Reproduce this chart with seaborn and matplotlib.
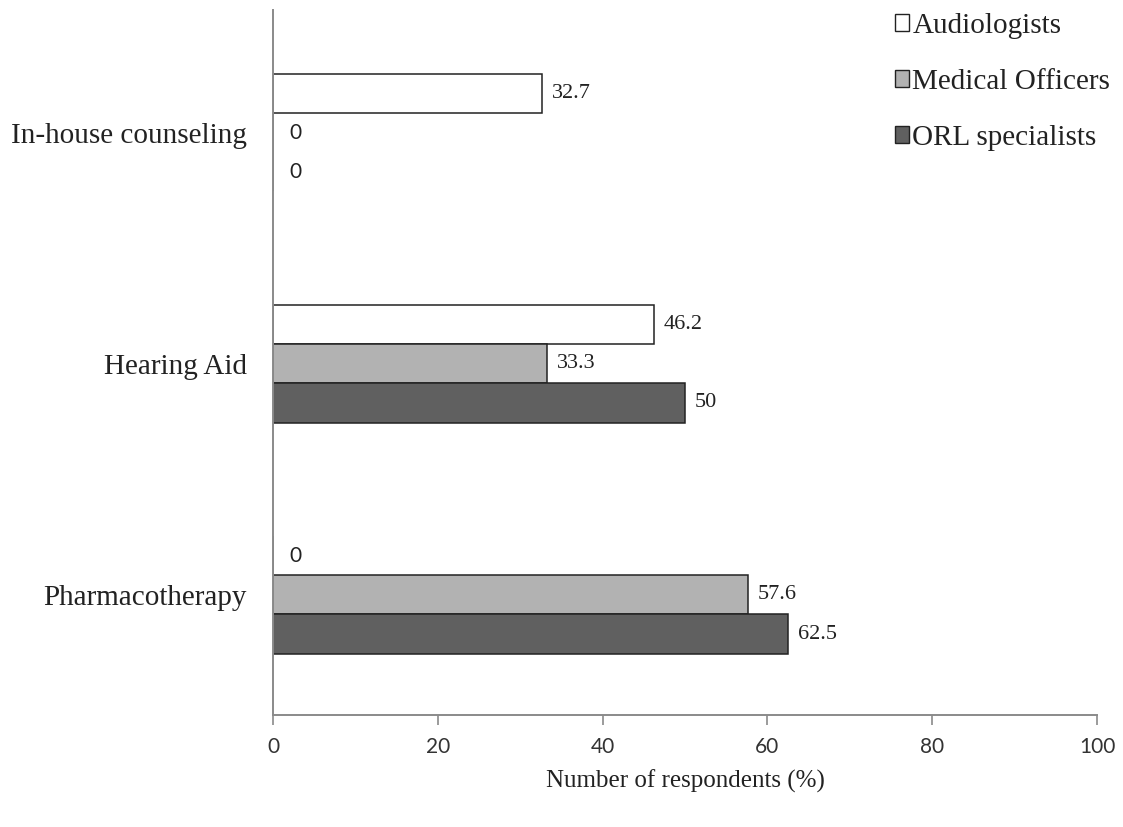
import matplotlib
matplotlib.use("Agg")
import matplotlib.pyplot as plt
from matplotlib.patches import Patch
import seaborn as sns
import pandas as pd

# Survey results: share of respondents per management option (%)
categories = ["In-house counseling", "Hearing Aid", "Pharmacotherapy"]
groups = ["Audiologists", "Medical Officers", "ORL specialists"]
audiologists = [32.7, 46.2, 0]
medical_officers = [0, 33.3, 57.6]
orl_specialists = [0, 50, 62.5]
x_ticks = [0, 20, 40, 60, 80, 100]

colors = ["#ffffff", "#b2b2b2", "#606060"]

df = pd.DataFrame({
    "option": categories * 3,
    "group": [g for g in groups for _ in categories],
    "value": audiologists + medical_officers + orl_specialists,
})

sns.set_theme(style="white")
plt.rcParams["font.family"] = ["Liberation Serif", "DejaVu Serif"]

fig = plt.figure(figsize=(11.23, 8.27), dpi=100)
ax = fig.add_axes([0.2431, 0.1354, 0.7338, 0.8525])

sns.barplot(data=df, y="option", x="value", hue="group", order=categories,
            hue_order=groups, palette=colors, orient="h", width=0.51,
            edgecolor="#222222", linewidth=1.1, ax=ax, legend=False)

# value labels: non-zero bars close to the bar end, zero bars a little further out
for cont in ax.containers:
    vals = cont.datavalues
    ax.bar_label(cont, labels=["" if v == 0 else f"{v:g}" for v in vals],
                 padding=7, fontsize=16, family=["Liberation Serif"], color="#222222")
    ax.bar_label(cont, labels=["0" if v == 0 else "" for v in vals],
                 padding=12, fontsize=15, family=["Lato"], color="#222222")

ax.set_xlim(0, 100)
ax.set_ylim(2.52, -0.53)
ax.set_xticks(x_ticks)
ax.set_xticklabels([str(t) for t in x_ticks], fontsize=15,
                   family=["Lato"], color="#333333")
ax.tick_params(axis="x", bottom=True, length=7, width=1.2, color="#8a8a8a", pad=9)
ax.tick_params(axis="y", left=False, pad=13, labelsize=21, labelcolor="#222222")
ax.set_ylabel("")
ax.set_xlabel("Number of respondents (%)", fontsize=18, color="#222222", labelpad=9)

for side in ["top", "right"]:
    ax.spines[side].set_visible(False)
for side in ["left", "bottom"]:
    ax.spines[side].set_color("#8a8a8a")
    ax.spines[side].set_linewidth(1.4)

handles = [Patch(facecolor=c, edgecolor="#222222", linewidth=1.0) for c in colors]
fig.legend(handles, groups, loc="upper right", bbox_to_anchor=(1.012, 1.016),
           frameon=False, fontsize=21, handlelength=0.5, handleheight=0.5,
           handletextpad=0.1, labelspacing=1.03, labelcolor="#222222")

fig.savefig("out.png", dpi=100, facecolor="white")
